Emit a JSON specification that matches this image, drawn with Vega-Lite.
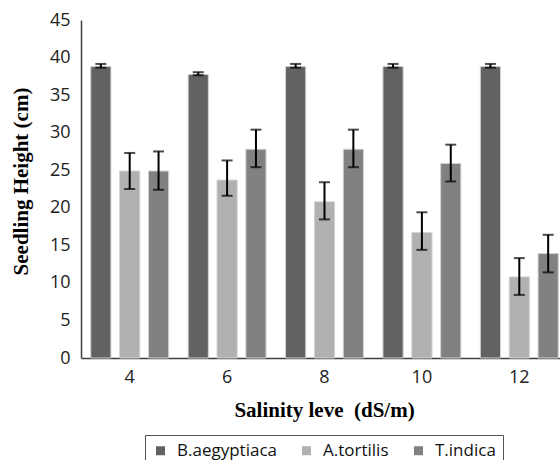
{
  "$schema": "https://vega.github.io/schema/vega-lite/v6.json",
  "autosize": "none",
  "padding": {"left": 81, "top": 20, "right": 0, "bottom": 102},
  "width": 479,
  "height": 338,
  "background": "white",
  "config": {
    "view": {"stroke": null},
    "axis": {"grid": false, "ticks": false, "domainColor": "#404040", "domainWidth": 1.5,
      "labelFont": "Open Sans", "labelFontSize": 18, "labelColor": "#222222", "labelOverlap": false,
      "titleFont": "Liberation Serif", "titleFontWeight": "bold", "titleColor": "#000000"}
  },
  "data": {"values": [
    {"salinity": 4, "species": "B.aegyptiaca", "height": 38.8, "lo": 38.65, "hi": 39.15},
    {"salinity": 4, "species": "A.tortilis", "height": 24.9, "lo": 22.5, "hi": 27.3},
    {"salinity": 4, "species": "T.indica", "height": 24.9, "lo": 22.4, "hi": 27.5},
    {"salinity": 6, "species": "B.aegyptiaca", "height": 37.75, "lo": 37.65, "hi": 38.05},
    {"salinity": 6, "species": "A.tortilis", "height": 23.7, "lo": 21.6, "hi": 26.3},
    {"salinity": 6, "species": "T.indica", "height": 27.8, "lo": 25.4, "hi": 30.4},
    {"salinity": 8, "species": "B.aegyptiaca", "height": 38.8, "lo": 38.65, "hi": 39.15},
    {"salinity": 8, "species": "A.tortilis", "height": 20.8, "lo": 18.45, "hi": 23.4},
    {"salinity": 8, "species": "T.indica", "height": 27.8, "lo": 25.4, "hi": 30.4},
    {"salinity": 10, "species": "B.aegyptiaca", "height": 38.8, "lo": 38.65, "hi": 39.15},
    {"salinity": 10, "species": "A.tortilis", "height": 16.7, "lo": 14.4, "hi": 19.4},
    {"salinity": 10, "species": "T.indica", "height": 25.9, "lo": 23.5, "hi": 28.4},
    {"salinity": 12, "species": "B.aegyptiaca", "height": 38.8, "lo": 38.65, "hi": 39.15},
    {"salinity": 12, "species": "A.tortilis", "height": 10.8, "lo": 8.4, "hi": 13.3},
    {"salinity": 12, "species": "T.indica", "height": 13.9, "lo": 11.4, "hi": 16.4}
  ]},
  "encoding": {
    "x": {"field": "salinity", "type": "ordinal",
      "scale": {"range": [0, 487], "paddingInner": 0.2, "paddingOuter": 0.1},
      "axis": {"labelAngle": 0, "labelPadding": 10, "title": "Salinity leve\u00a0 (dS/m)",
        "titleFontSize": 21, "titleX": 243, "titleY": 52, "titleBaseline": "middle"}},
    "xOffset": {"field": "species", "type": "nominal", "sort": ["B.aegyptiaca", "A.tortilis", "T.indica"],
      "scale": {"paddingInner": 0.3, "paddingOuter": 0}}
  },
  "layer": [
    {
      "mark": {"type": "bar", "stroke": "#d4d4d4", "strokeWidth": 1},
      "encoding": {
        "y": {"field": "height", "type": "quantitative",
          "scale": {"domain": [0, 45], "nice": false},
          "axis": {"values": [0, 5, 10, 15, 20, 25, 30, 35, 40, 45], "labelPadding": 11, "labelOverlap": false,
            "title": "Seedling Height (cm)", "titleFontSize": 21,
            "titleX": -60, "titleY": 161, "titleBaseline": "middle", "titleAngle": -90}},
        "color": {"field": "species", "type": "nominal",
          "sort": ["B.aegyptiaca", "A.tortilis", "T.indica"],
          "scale": {"domain": ["B.aegyptiaca", "A.tortilis", "T.indica"], "range": ["#626262", "#b1b1b1", "#818181"]},
          "legend": {"orient": "none", "legendX": 64, "legendY": 415, "direction": "horizontal",
            "title": null, "symbolType": "square", "symbolSize": 81, "symbolStrokeWidth": 0,
            "labelFont": "Open Sans", "labelFontSize": 17, "labelColor": "#111111",
            "labelOffset": 8, "columnPadding": 21, "padding": 7,
            "strokeColor": "#555555", "fillColor": "white"}}
      }
    },
    {
      "mark": {"type": "rule", "color": "#000000", "strokeWidth": 2},
      "encoding": {
        "y": {"field": "lo", "type": "quantitative",
          "axis": {"values": [0, 5, 10, 15, 20, 25, 30, 35, 40, 45], "labelPadding": 11, "labelOverlap": false,
            "title": "Seedling Height (cm)", "titleFontSize": 21,
            "titleX": -60, "titleY": 161, "titleBaseline": "middle", "titleAngle": -90}},
        "y2": {"field": "hi"}
      }
    },
    {
      "mark": {"type": "tick", "color": "#000000", "thickness": 2, "size": 11},
      "encoding": {"y": {"field": "lo", "type": "quantitative",
          "axis": {"values": [0, 5, 10, 15, 20, 25, 30, 35, 40, 45], "labelPadding": 11, "labelOverlap": false,
            "title": "Seedling Height (cm)", "titleFontSize": 21,
            "titleX": -60, "titleY": 161, "titleBaseline": "middle", "titleAngle": -90}}}
    },
    {
      "mark": {"type": "tick", "color": "#000000", "thickness": 2, "size": 11},
      "encoding": {"y": {"field": "hi", "type": "quantitative",
          "axis": {"values": [0, 5, 10, 15, 20, 25, 30, 35, 40, 45], "labelPadding": 11, "labelOverlap": false,
            "title": "Seedling Height (cm)", "titleFontSize": 21,
            "titleX": -60, "titleY": 161, "titleBaseline": "middle", "titleAngle": -90}}}
    }
  ]
}
